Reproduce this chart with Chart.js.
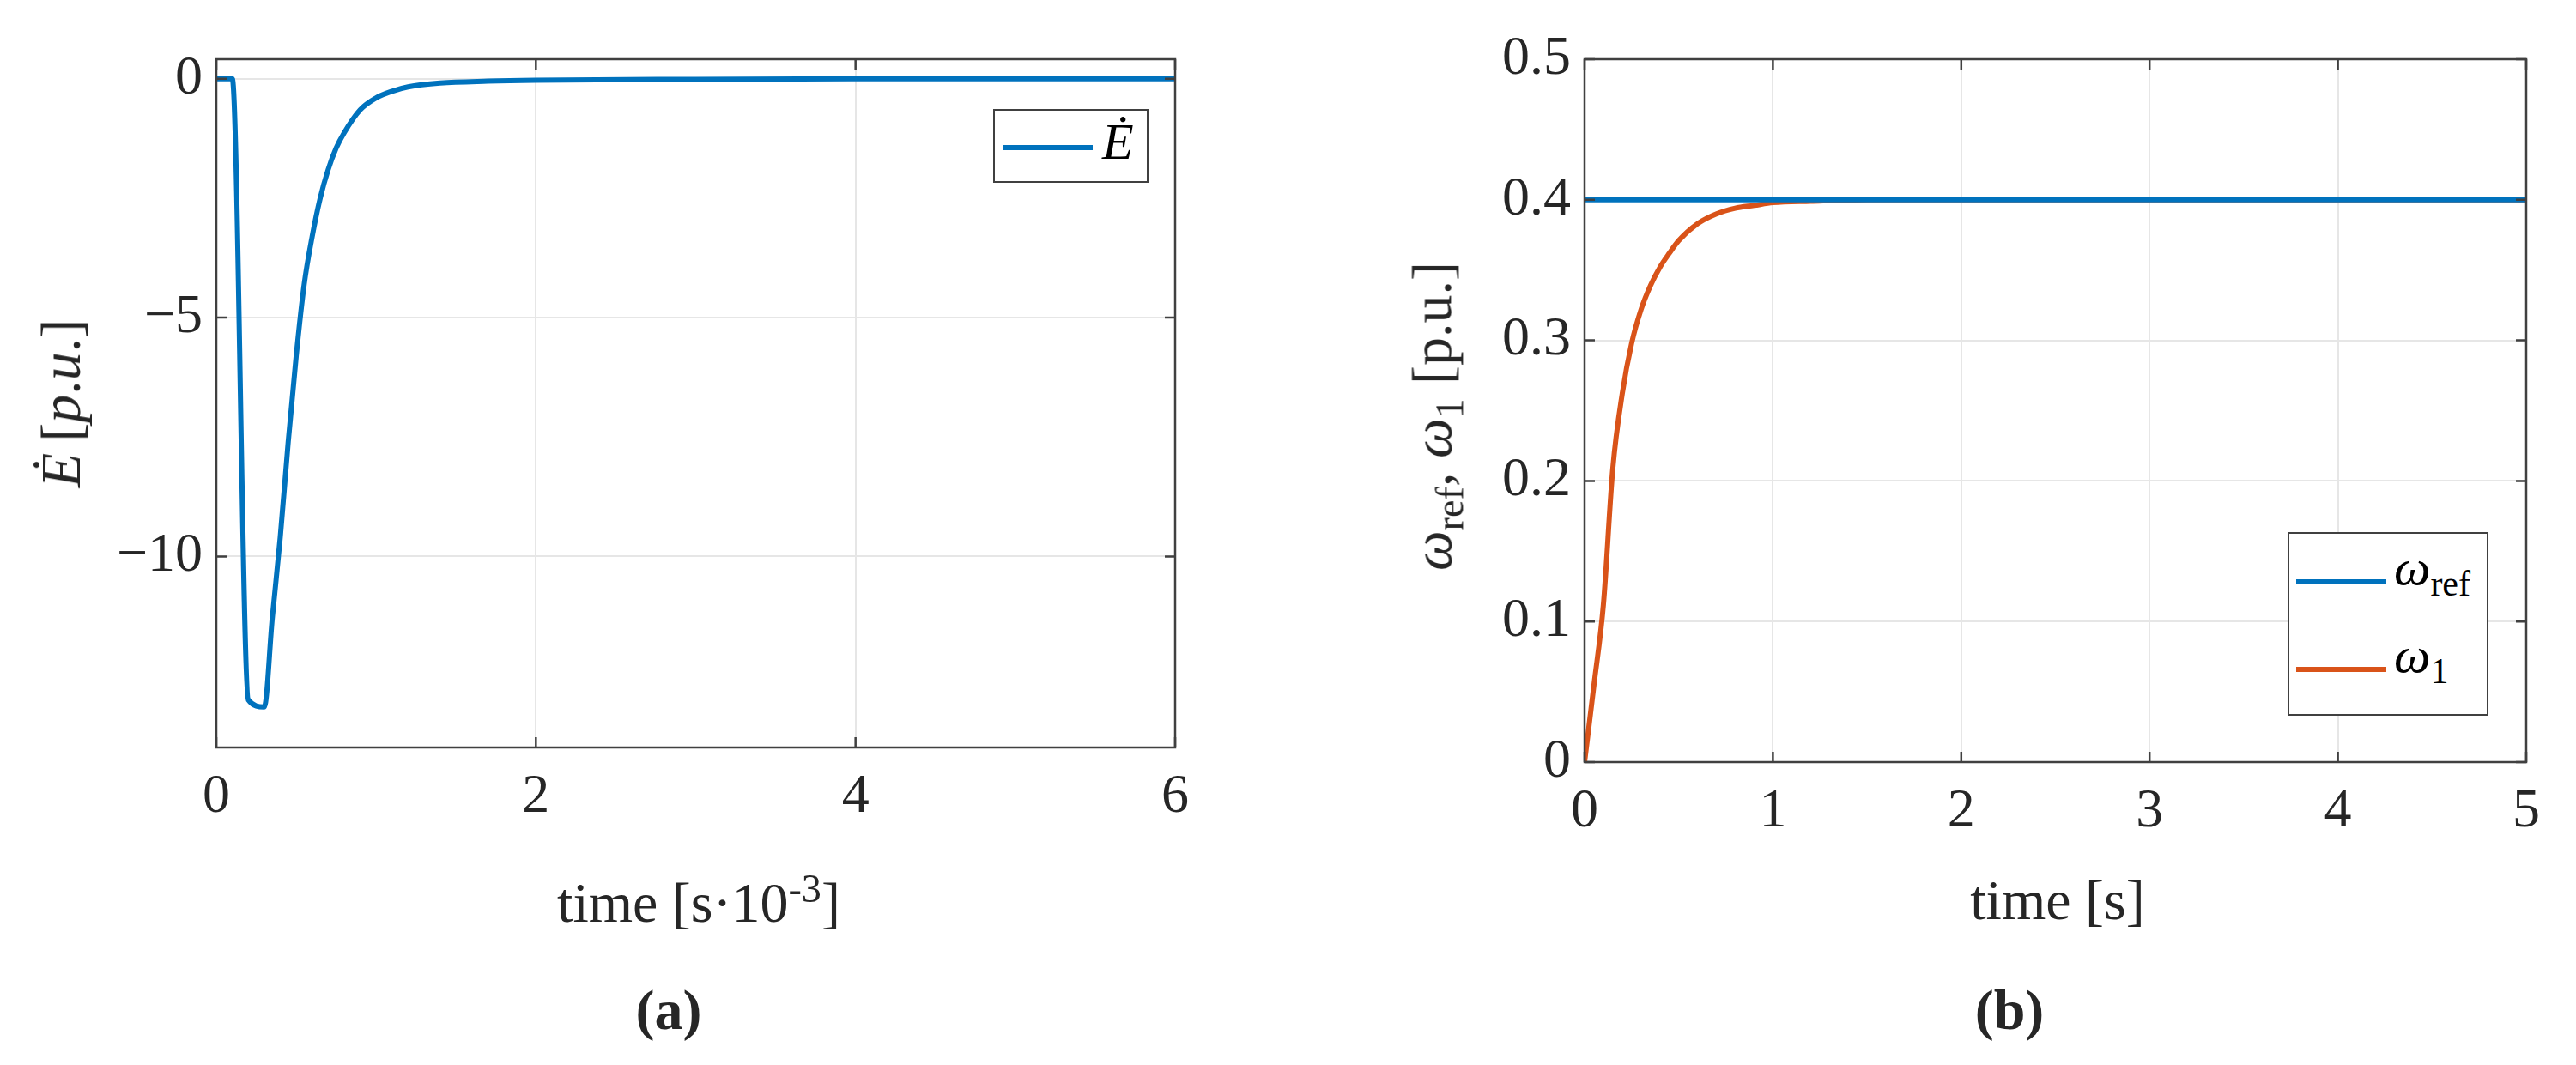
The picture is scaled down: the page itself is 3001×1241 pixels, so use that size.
<!DOCTYPE html>
<html><head><meta charset="utf-8">
<script src="https://cdn.jsdelivr.net/npm/chart.js@4"></script>
<style>
body{margin:0;background:#fff;width:3001px;height:1241px;overflow:hidden;position:relative;font-family:"Liberation Serif","DejaVu Serif",serif;color:#262626}
canvas{position:absolute;left:0;top:0}
.t{position:absolute;font-size:66px;white-space:nowrap;transform:translate(-50%,-50%)}
.rot{transform:translate(-50%,-50%) rotate(-90deg)}
.leg{position:absolute;border:2px solid #404040;background:#fff}
.li{position:absolute;height:6px}
.lt{position:absolute;font-size:60px;font-style:italic;color:#000}
sub,sup{font-size:0.7em;font-style:normal}
</style></head><body>
<canvas id="ca"></canvas><canvas id="cb"></canvas>
<div class="t" style="left:814px;top:1049px">time [s·10<sup>-3</sup>]</div>
<div class="t" style="left:2397px;top:1049px">time [s]</div>
<div class="t" style="left:779px;top:1177px;font-weight:bold">(a)</div>
<div class="t" style="left:2341px;top:1177px;font-weight:bold">(b)</div>
<div class="t rot" style="left:71px;top:470px"><i>Ė</i>&thinsp;[<i>p</i>.<i>u</i>.]</div>
<div class="t rot" style="left:1673px;top:485px"><i>ω</i><sub>ref</sub>, <i>ω</i><sub>1</sub> [p.u.]</div>
<div class="leg" style="left:1157px;top:127px;width:177px;height:82px">
 <div class="li" style="left:9px;top:40px;width:105px;background:#0072BD"></div>
 <div class="lt" style="left:125px;top:2px"><i>Ė</i></div>
</div>
<div class="leg" style="left:2665px;top:620px;width:230px;height:210px">
 <div class="li" style="left:8px;top:53px;width:105px;background:#0072BD"></div>
 <div class="lt" style="left:122px;top:5px">ω<sub>ref</sub></div>
 <div class="li" style="left:8px;top:155px;width:105px;background:#D95319"></div>
 <div class="lt" style="left:122px;top:107px">ω<sub>1</sub></div>
</div>
<script>
const tA=[0,0.1,0.2,0.3,0.35,0.4,0.45,0.5,0.55,0.6,0.65,0.7,0.75,0.8,0.9,1.0,1.1,1.2,1.4,1.7,2.0,3,4,5,6];
const eDot=[0,0,-13.0,-13.15,-11.3,-9.6,-7.6,-5.8,-4.3,-3.3,-2.5,-1.9,-1.45,-1.13,-0.65,-0.4,-0.26,-0.17,-0.09,-0.05,-0.03,-0.01,0,0,0];
const tB=[0,0.05,0.1,0.15,0.2,0.25,0.3,0.35,0.4,0.45,0.5,0.6,0.7,0.8,0.9,1.0,1.2,1.5,2,3,4,5];
const wRef=[0.4,0.4,0.4,0.4,0.4,0.4,0.4,0.4,0.4,0.4,0.4,0.4,0.4,0.4,0.4,0.4,0.4,0.4,0.4,0.4,0.4,0.4];
const w1=[0,0.055,0.112,0.209,0.262,0.298,0.322,0.339,0.352,0.362,0.371,0.383,0.39,0.394,0.396,0.398,0.399,0.4,0.4,0.4,0.4,0.4];
const ticksAX=[0,2,4,6], ticksAY=[-10,-5,0];
const ticksBX=[0,1,2,3,4,5], ticksBY=[0,0.1,0.2,0.3,0.4,0.5];
Chart.defaults.font.family='"Liberation Serif",serif';
Chart.defaults.color='#262626';
const frame={id:'frame',afterDraw(c){const a=c.chartArea,x=c.ctx;x.save();x.strokeStyle='#404040';x.lineWidth=2.5;
 x.strokeRect(a.left,a.top,a.right-a.left,a.bottom-a.top);
 const L=12;
 c.scales.x.ticks.forEach(t=>{const p=c.scales.x.getPixelForValue(t.value);x.beginPath();x.moveTo(p,a.bottom);x.lineTo(p,a.bottom-L);x.moveTo(p,a.top);x.lineTo(p,a.top+L);x.stroke();});
 c.scales.y.ticks.forEach(t=>{const p=c.scales.y.getPixelForValue(t.value);x.beginPath();x.moveTo(a.left,p);x.lineTo(a.left+L,p);x.moveTo(a.right,p);x.lineTo(a.right-L,p);x.stroke();});
 x.restore();}};
function mk(id,left,right,top,bottom,xmin,xmax,ymin,ymax,tx,ty,ds,fmtY){
 const cv=document.getElementById(id);
 return new Chart(cv,{type:'line',data:{datasets:ds},plugins:[frame],
 options:{responsive:false,animation:false,devicePixelRatio:1,
  layout:{padding:{left:0,right:3001-right,top:top,bottom:0}},
  plugins:{legend:{display:false},tooltip:{enabled:false}},
  elements:{point:{radius:0},line:{borderWidth:6,tension:0.3,cubicInterpolationMode:'monotone'}},
  scales:{
   x:{type:'linear',min:xmin,max:xmax,afterBuildTicks:s=>{s.ticks=tx.map(v=>({value:v}))},
      afterFit:s=>{s.height=1241-bottom},
      grid:{color:'#e6e6e6',lineWidth:2,drawTicks:false},border:{display:false},
      ticks:{font:{size:64},padding:20,maxRotation:0,callback:v=>String(v)}},
   y:{type:'linear',min:ymin,max:ymax,afterBuildTicks:s=>{s.ticks=ty.map(v=>({value:v}))},
      afterFit:s=>{s.width=left},
      grid:{color:'#e6e6e6',lineWidth:2,drawTicks:false},border:{display:false},
      ticks:{font:{size:64},padding:16,callback:fmtY}}
  }}});
}
for(const id of ['ca','cb']){const c=document.getElementById(id);c.width=3001;c.height=1241;}
mk('ca',252,1369,69,871,0,6,-14,0.41,ticksAX,ticksAY,
 [{data:tA.map((t,i)=>({x:t,y:eDot[i]})),borderColor:'#0072BD'}],
 v=>v<0?'\u2212'+Math.abs(v):String(v));
mk('cb',1846,2943,69,888,0,5,0,0.5,ticksBX,ticksBY,
 [{data:tB.map((t,i)=>({x:t,y:wRef[i]})),borderColor:'#0072BD'},
  {data:tB.map((t,i)=>({x:t,y:w1[i]})),borderColor:'#D95319'}],
 v=>v===0?'0':v.toFixed(1));
</script></body></html>
